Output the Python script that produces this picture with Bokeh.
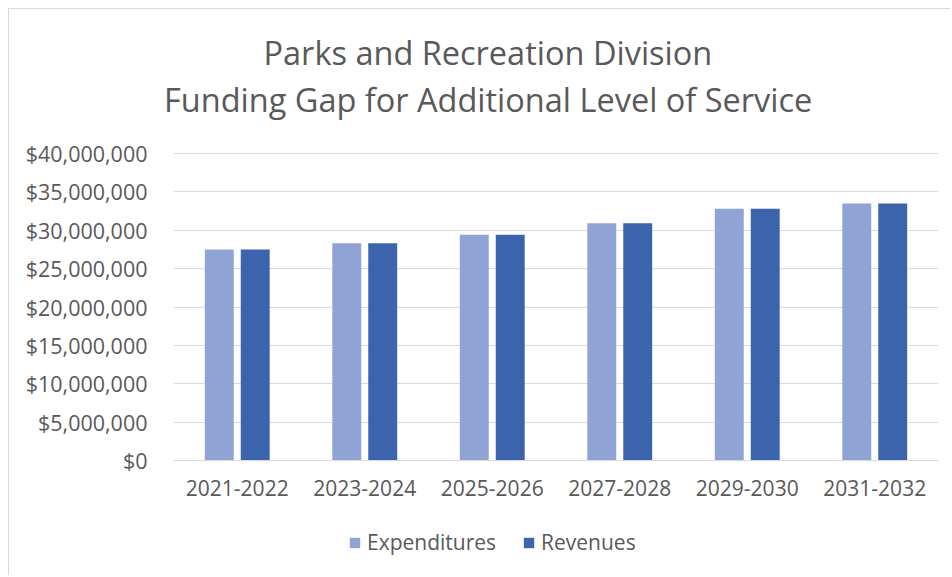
from bokeh.plotting import figure
from bokeh.models import (ColumnDataSource, FactorRange, Range1d, NumeralTickFormatter,
                          FixedTicker, Legend, LegendItem, Title)
from bokeh.transform import dodge
from bokeh.embed import file_html
from bokeh.resources import INLINE

periods = ["2021-2022", "2023-2024", "2025-2026", "2027-2028", "2029-2030", "2031-2032"]
expenditures = [27_500_000, 28_300_000, 29_400_000, 30_900_000, 32_800_000, 33_500_000]
revenues = [27_500_000, 28_300_000, 29_400_000, 30_900_000, 32_800_000, 33_500_000]
y_ticks = [0, 5_000_000, 10_000_000, 15_000_000, 20_000_000, 25_000_000,
           30_000_000, 35_000_000, 40_000_000]
series_names = ["Expenditures", "Revenues"]
title_lines = ["Parks and Recreation Division", "Funding Gap for Additional Level of Service"]

FONT = "Open Sans"
GREY = "#595959"
BORDER = "1px solid #d9d9d9"
EXP_COLOR = "#8FA3D5"
REV_COLOR = "#3C64AD"

# pixel layout of the frame: gridlines 0..40M span 307 px; the frame reaches
# 339 px above the zero line and 110 px below it (room for tick labels + legend)
GRID_PX, ABOVE_PX, BELOW_PX = 307, 339, 110
y_end = y_ticks[-1] * ABOVE_PX / GRID_PX
y_start = -y_ticks[-1] * BELOW_PX / GRID_PX

src = ColumnDataSource(dict(period=periods, exp=expenditures, rev=revenues))

p = figure(x_range=FactorRange(*periods), y_range=Range1d(y_start, y_end),
           width=942, height=567, output_backend="svg", toolbar_location=None,
           min_border_left=164, min_border_right=13, min_border_top=112, min_border_bottom=6,
           outline_line_color=None,
           styles={"border-left": BORDER, "border-top": BORDER,
                   "margin-left": "8px", "margin-top": "8px"})
p.title.visible = False

r_exp = p.vbar(x=dodge("period", -0.141, range=p.x_range), top="exp", bottom=0, width=0.227,
               source=src, fill_color=EXP_COLOR, line_color=None)
r_rev = p.vbar(x=dodge("period", 0.141, range=p.x_range), top="rev", bottom=0, width=0.227,
               source=src, fill_color=REV_COLOR, line_color=None)

p.yaxis.ticker = FixedTicker(ticks=y_ticks)
p.yaxis.formatter = NumeralTickFormatter(format="$0,0")
p.yaxis.axis_line_color = None
p.yaxis.major_tick_line_color = None
p.yaxis.minor_tick_line_color = None
p.yaxis.major_tick_out = 0
p.yaxis.major_label_standoff = 26
p.yaxis.major_label_text_font = FONT
p.yaxis.major_label_text_font_size = "21.5px"
p.yaxis.major_label_text_color = GREY

p.xaxis.fixed_location = 0
p.xaxis.axis_line_color = "#d9d9d9"
p.xaxis.major_tick_line_color = None
p.xaxis.minor_tick_line_color = None
p.xaxis.major_tick_out = 0
p.xaxis.major_label_standoff = 19
p.xaxis.major_label_text_font = FONT
p.xaxis.major_label_text_font_size = "21px"
p.xaxis.major_label_text_color = GREY

p.xgrid.grid_line_color = None
p.ygrid.ticker = FixedTicker(ticks=y_ticks)
p.ygrid.grid_line_color = "#d9d9d9"
p.ygrid.grid_line_width = 1

# two-line title: second line added first (closest to the plot)
for txt, off in [(title_lines[1], -9.5), (title_lines[0], 90)]:
    p.add_layout(Title(text=txt, align="left", offset=off, vertical_align="bottom",
                       standoff=0, text_font=FONT, text_font_size="32.5px",
                       text_font_style="normal", text_color=GREY), "above")

legend = Legend(items=[LegendItem(label=series_names[0], renderers=[r_exp]),
                       LegendItem(label=series_names[1], renderers=[r_rev])],
                orientation="horizontal", location=(175, 14),
                padding=0, margin=0, spacing=26, label_standoff=6,
                glyph_width=13, glyph_height=13, border_line_color=None,
                background_fill_alpha=0, label_text_font=FONT,
                label_text_font_size="21px", label_text_color=GREY)
p.add_layout(legend, "center")

open("out.html", "w").write(file_html(p, INLINE))
